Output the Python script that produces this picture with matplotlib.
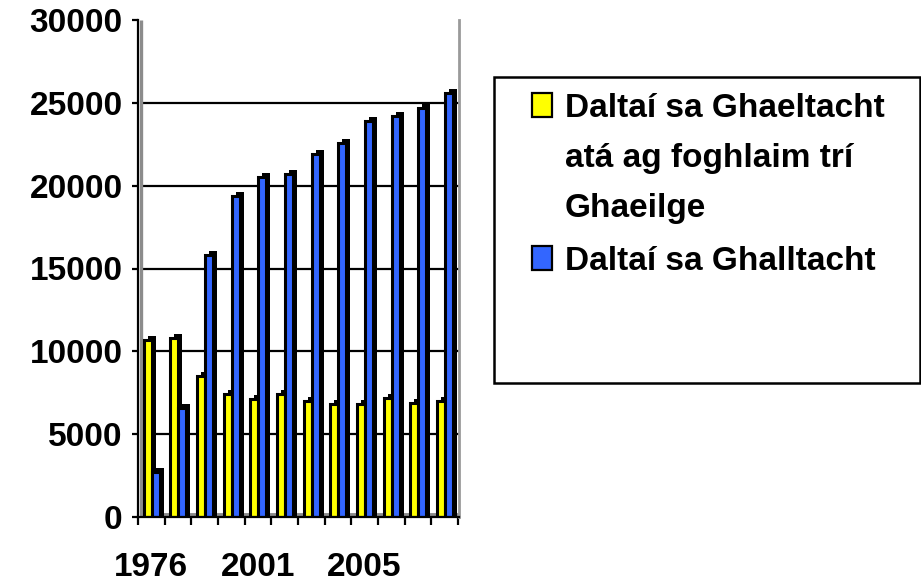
import matplotlib
matplotlib.use("Agg")
import matplotlib.pyplot as plt
from matplotlib.patches import Rectangle
import numpy as np

# ---------------- data ----------------
tick_labels = ["1976", "", "", "", "2001", "", "", "", "2005", "", "", ""]
gaeltacht = [10700, 10800, 8500, 7400, 7100, 7400, 7000, 6800, 6800, 7200, 6900, 7000]
galltacht = [2700, 6600, 15800, 19400, 20500, 20700, 21900, 22600, 23900, 24200, 24700, 25600]
y_ticks = [0, 5000, 10000, 15000, 20000, 25000, 30000]
grid_values = [5000, 10000, 15000, 20000, 25000]
series_labels = ["Daltaí sa Ghaeltacht\natá ag foghlaim trí\nGhaeilge", "Daltaí sa Ghalltacht"]
series_colors = ["#FFFF00", "#3366FF"]

plt.rcParams["font.family"] = ["Liberation Sans", "DejaVu Sans"]
plt.rcParams["font.weight"] = "bold"

W, H = 921, 585
fig = plt.figure(figsize=(W / 100, H / 100), dpi=100)
fig.patch.set_facecolor("white")

left_px, right_px, top_px, bot_px = 138, 459, 20, 517
ax = fig.add_axes([left_px / W, 1 - bot_px / H, (right_px - left_px) / W, (bot_px - top_px) / H])
ax.set_facecolor("white")

n = len(gaeltacht)
idx = np.arange(n)
ax.set_xlim(0, 12.04)
ax.set_ylim(0, 30000)

# gridlines
ax.hlines(grid_values, 0.11, 12.04, colors="black", linewidth=1.6, zorder=1)
# back wall and floor (gray)
ax.vlines(0.11, 0, 30000, colors="#8c8c8c", linewidth=2.4, zorder=1)
ax.hlines(120, 0.11, 12.04, colors="#8c8c8c", linewidth=3.5, zorder=1)

w = 0.30
dx = 0.15
dy = 240
offsets = [0.36, 0.66]
for vals, col, off in zip([gaeltacht, galltacht], series_colors, offsets):
    v = np.array(vals, dtype=float)
    ax.bar(idx + off + dx, v + dy, width=w, color="black", linewidth=0, zorder=2)
    ax.bar(idx + off, v, width=w, color=col, edgecolor="black", linewidth=2.2, zorder=3)

# spines
ax.spines["top"].set_visible(False)
ax.spines["right"].set_color("#9a9a9a")
ax.spines["right"].set_linewidth(2)
ax.spines["left"].set_linewidth(1.6)
ax.spines["bottom"].set_linewidth(1.6)
ax.spines["bottom"].set_zorder(4)

ax.set_yticks(y_ticks)
ax.set_yticklabels([str(t) for t in y_ticks], fontsize=24, fontweight="bold")
ax.tick_params(axis="y", direction="out", length=4, width=1.6, pad=7)

ax.set_xticks(np.arange(0, n + 1))
ax.set_xticklabels([])
ax.tick_params(axis="x", which="major", direction="out", length=6, width=1.6)
ax.set_xticks(idx + 0.5, minor=True)
ax.set_xticklabels(tick_labels, minor=True, fontsize=24, fontweight="bold")
ax.tick_params(axis="x", which="minor", length=0, pad=25)

# legend (manual, figure coordinates in pixels)
def fx(px):
    return px / W

def fy(py):
    return 1 - py / H

box = Rectangle((fx(494), fy(383)), fx(920) - fx(494), fy(77) - fy(383),
                transform=fig.transFigure, facecolor="white", edgecolor="black",
                linewidth=1.8)
fig.add_artist(box)

legend_rows = [(117, series_labels[0], series_colors[0]), (270, series_labels[1], series_colors[1])]
for base, label, col in legend_rows:
    sq = Rectangle((fx(532), fy(base)), fx(552) - fx(532), fy(base - 24) - fy(base),
                   transform=fig.transFigure, facecolor=col, edgecolor="black", linewidth=1.6)
    fig.add_artist(sq)
    for k, line in enumerate(label.split("\n")):
        fig.text(fx(565), fy(base + k * 50), line, fontsize=24, fontweight="bold",
                 ha="left", va="baseline")

fig.savefig("out.png", dpi=100, facecolor="white")
